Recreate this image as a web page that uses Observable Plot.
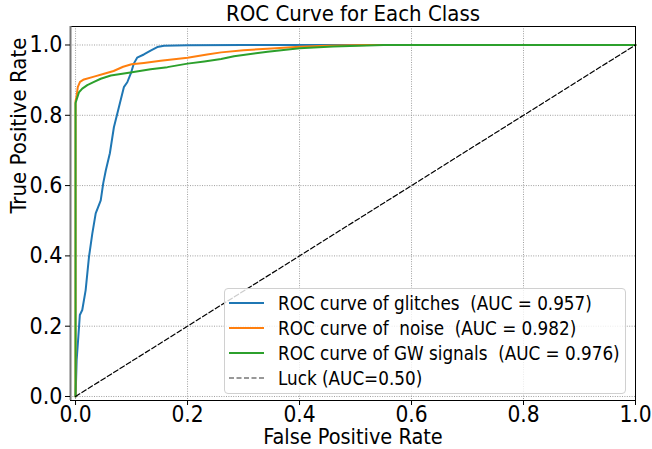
<!DOCTYPE html>
<html>
<head>
<meta charset="utf-8">
<script src="https://cdn.jsdelivr.net/npm/d3@7"></script>
<script src="https://cdn.jsdelivr.net/npm/@observablehq/plot@0.6"></script>
<style>
  html, body { margin: 0; padding: 0; background: #fff; }
  #wrap { position: relative; width: 652px; height: 449px; font-family: "DejaVu Sans Condensed", "DejaVu Sans", sans-serif; }
  #legend { position: absolute; left: 224px; top: 288px; width: 402px; height: 106px; box-sizing: border-box;
    border: 1px solid #d0d0d0; border-radius: 4px; background: rgba(255,255,255,0.8); }
  .row { position: absolute; left: 0; height: 24px; display: flex; align-items: center; font-size: 18.7px; color: #000; white-space: pre; }
  .row svg { margin-left: 4px; margin-right: 14px; }
</style>
</head>
<body>
<div id="wrap"></div>
<script>
// ---- data ----
const classNames = ["glitches", " noise", "GW signals"];
const aucValues = [0.957, 0.982, 0.976];
const colors = ["#1f77b4", "#ff7f0e", "#2ca02c"];

const fprGlitches = [0, 0.001, 0.002, 0.005, 0.0077, 0.012, 0.018, 0.024, 0.030, 0.036, 0.045, 0.0495, 0.054, 0.0613, 0.0685, 0.0774, 0.0863, 0.0924, 0.0996, 0.104, 0.110, 0.122, 0.134, 0.146, 0.158, 0.2, 0.3, 1.0];
const tprGlitches = [0, 0.05, 0.104, 0.17, 0.232, 0.246, 0.302, 0.397, 0.464, 0.521, 0.558, 0.607, 0.643, 0.692, 0.766, 0.823, 0.880, 0.894, 0.923, 0.947, 0.964, 0.973, 0.984, 0.994, 0.998, 0.999, 1.0, 1.0];

const fprNoise = [0, 0, 0.002, 0.004, 0.008, 0.015, 0.033, 0.051, 0.068, 0.085, 0.1, 0.122, 0.152, 0.2, 0.235, 0.26, 0.3, 0.35, 0.4, 0.45, 0.52, 1.0];
const tprNoise = [0, 0.84, 0.855, 0.88, 0.895, 0.902, 0.910, 0.918, 0.926, 0.938, 0.945, 0.949, 0.955, 0.964, 0.973, 0.979, 0.985, 0.990, 0.995, 0.998, 1.0, 1.0];

const fprGW = [0, 0, 0.002, 0.006, 0.012, 0.021, 0.033, 0.045, 0.063, 0.098, 0.134, 0.164, 0.2, 0.23, 0.26, 0.283, 0.343, 0.4, 0.46, 0.55, 1.0];
const tprGW = [0, 0.835, 0.845, 0.865, 0.876, 0.886, 0.895, 0.904, 0.913, 0.922, 0.931, 0.937, 0.947, 0.953, 0.960, 0.968, 0.981, 0.991, 0.996, 1.0, 1.0];

const fprLuck = [0, 1];
const tprLuck = [0, 1];

const xTicks = [0, 0.2, 0.4, 0.6, 0.8, 1.0];
const yTicks = [0, 0.2, 0.4, 0.6, 0.8, 1.0];

const titleText = "ROC Curve for Each Class";
const xLabel = "False Positive Rate";
const yLabel = "True Positive Rate";
const luckLabel = "Luck (AUC=0.50)";

// ---- build tables ----
const toRows = (xs, ys) => xs.map((x, i) => ({x, y: ys[i]}));
const series = [
  toRows(fprGlitches, tprGlitches),
  toRows(fprNoise, tprNoise),
  toRows(fprGW, tprGW)
];
const luck = toRows(fprLuck, tprLuck);

const FONT = '"DejaVu Sans Condensed", "DejaVu Sans", sans-serif';

const plot = Plot.plot({
  width: 652,
  height: 449,
  marginLeft: 70,
  marginRight: 17,
  marginTop: 26,
  marginBottom: 49,
  style: {fontFamily: FONT, fontSize: "23px", color: "#000", background: "#fff", overflow: "visible"},
  x: {domain: [-0.009, 1.0]},
  y: {domain: [-0.0114, 1.0526]},
  marks: [
    Plot.gridX(xTicks, {stroke: "#888", strokeOpacity: 1, strokeWidth: 0.8, strokeDasharray: "1,1.4"}),
    Plot.gridY(yTicks, {stroke: "#888", strokeOpacity: 1, strokeWidth: 0.8, strokeDasharray: "1,1.4"}),
    ...series.map((d, i) => Plot.line(d, {x: "x", y: "y", stroke: colors[i], strokeWidth: 2})),
    Plot.line(luck, {x: "x", y: "y", stroke: "#000", strokeWidth: 1.2, strokeDasharray: "5,2.5"}),
    Plot.frame({stroke: "#000", strokeWidth: 1}),
    Plot.ruleX([-0.009], {stroke: "#777", strokeWidth: 2}),
    Plot.axisX(xTicks, {tickSize: 5, tickPadding: 1, tickFormat: d3.format(".1f"), label: null, fontSize: 22.5}),
    Plot.axisY(yTicks, {tickSize: 5, tickPadding: 3, tickFormat: d3.format(".1f"), label: null, fontSize: 23}),
    Plot.text([titleText], {frameAnchor: "top", dy: -13, lineAnchor: "middle", fontSize: 22, fill: "#000"}),
    Plot.text([xLabel], {frameAnchor: "bottom", dy: 36.5, lineAnchor: "middle", fontSize: 21.5, fill: "#000"}),
    Plot.text([yLabel], {frameAnchor: "left", dx: -52, rotate: -90, lineAnchor: "middle", fontSize: 22, fill: "#000"})
  ]
});

const wrap = document.getElementById("wrap");
wrap.appendChild(plot);

// ---- legend ----
const legend = document.createElement("div");
legend.id = "legend";
const entries = classNames.map((n, i) => ({
  label: `ROC curve of ${n}  (AUC = ${aucValues[i].toFixed(3)})`,
  color: colors[i], dash: null, width: 2
}));
entries.push({label: luckLabel, color: "#333", dash: "5,2.5", width: 1.2});
entries.forEach((e, i) => {
  const row = document.createElement("div");
  row.className = "row";
  row.style.top = (2 + i * 25) + "px";
  row.innerHTML = `<svg width="35" height="10"><line x1="0" y1="5" x2="35" y2="5" stroke="${e.color}" stroke-width="${e.width}" ${e.dash ? `stroke-dasharray="${e.dash}"` : ""}/></svg><span>${e.label}</span>`;
  legend.appendChild(row);
});
wrap.appendChild(legend);
</script>
</body>
</html>
